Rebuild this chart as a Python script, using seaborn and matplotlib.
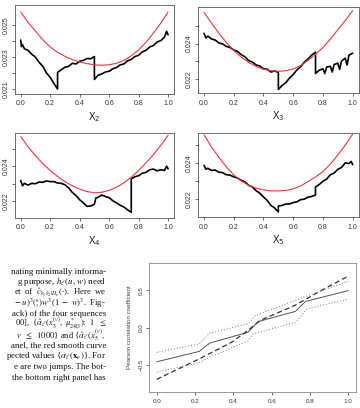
import numpy as np
import pandas as pd
import seaborn as sns
import matplotlib.pyplot as plt

# ---- data ----
grid = [0.00, 0.05, 0.10, 0.15, 0.20, 0.25, 0.30, 0.35, 0.40, 0.45, 0.50,
        0.55, 0.60, 0.65, 0.70, 0.75, 0.80, 0.85, 0.90, 0.95, 1.00]

red_x2 = [0.02580, 0.02515, 0.02462, 0.02408, 0.02363, 0.02330, 0.02305, 0.02285, 0.02270, 0.02260, 0.02253,
          0.02250, 0.02253, 0.02262, 0.02280, 0.02308, 0.02345, 0.02392, 0.02449, 0.02510, 0.02580]
red_x3 = [0.02575, 0.02515, 0.02458, 0.02406, 0.02361, 0.02324, 0.02294, 0.02272, 0.02256, 0.02247, 0.02244,
          0.02247, 0.02257, 0.02276, 0.02306, 0.02340, 0.02378, 0.02425, 0.02478, 0.02530, 0.02585]
red_x4 = [0.02572, 0.02512, 0.02461, 0.02415, 0.02376, 0.02342, 0.02312, 0.02288, 0.02269, 0.02255, 0.02248,
          0.02251, 0.02262, 0.02280, 0.02305, 0.02337, 0.02376, 0.02420, 0.02467, 0.02520, 0.02578]
red_x5 = [0.02557, 0.02490, 0.02432, 0.02380, 0.02335, 0.02302, 0.02278, 0.02262, 0.02252, 0.02247, 0.02246,
          0.02249, 0.02258, 0.02274, 0.02298, 0.02324, 0.02353, 0.02395, 0.02445, 0.02500, 0.02561]

# black sequences (x positions repeated at the jumps)
blk_x2_u = [0, 0.005, 0.0125, 0.025, 0.05, 0.075, 0.1, 0.125, 0.15, 0.175, 0.2, 0.225, 0.25, 0.25,
            0.275, 0.3, 0.325, 0.35, 0.375, 0.4, 0.425, 0.45, 0.475, 0.5, 0.5,
            0.525, 0.55, 0.575, 0.6, 0.625, 0.65, 0.675, 0.7, 0.725, 0.75, 0.775, 0.8,
            0.825, 0.85, 0.875, 0.9, 0.925, 0.95, 0.975, 0.99, 1.0]
blk_x2_v = [0.02406, 0.02365, 0.02378, 0.02352, 0.02342, 0.02318, 0.02300, 0.02268, 0.02243, 0.02202, 0.02175, 0.02138, 0.02103, 0.02205,
            0.02222, 0.02238, 0.02243, 0.02262, 0.02258, 0.02275, 0.02280, 0.02292, 0.02290, 0.02304, 0.02162,
            0.02188, 0.02196, 0.02208, 0.02213, 0.02228, 0.02236, 0.02252, 0.02258, 0.02278, 0.02286, 0.02304, 0.02312,
            0.02333, 0.02342, 0.02363, 0.02372, 0.02394, 0.02402, 0.02424, 0.02460, 0.02438]

blk_x3_u = [0, 0.0125, 0.025, 0.05, 0.075, 0.1, 0.125, 0.15, 0.175, 0.2, 0.225, 0.25, 0.275, 0.3,
            0.325, 0.35, 0.375, 0.4, 0.425, 0.45, 0.475, 0.5, 0.5,
            0.525, 0.55, 0.575, 0.6, 0.625, 0.65, 0.675, 0.7, 0.725, 0.75, 0.75,
            0.775, 0.8, 0.8125, 0.825, 0.85, 0.8625, 0.875, 0.9, 0.9125, 0.925, 0.95, 0.9625, 0.975, 1.0]
blk_x3_v = [0.02458, 0.02432, 0.02442, 0.02426, 0.02420, 0.02404, 0.02398, 0.02384, 0.02378, 0.02364, 0.02356, 0.02338, 0.02326, 0.02304,
            0.02296, 0.02280, 0.02274, 0.02258, 0.02256, 0.02240, 0.02246, 0.02238, 0.02142,
            0.02164, 0.02180, 0.02206, 0.02226, 0.02252, 0.02270, 0.02296, 0.02314, 0.02336, 0.02352, 0.02232,
            0.02250, 0.02258, 0.02232, 0.02268, 0.02272, 0.02240, 0.02282, 0.02290, 0.02255, 0.02302, 0.02318, 0.02280, 0.02335, 0.02346]

blk_x4_u = [0, 0.0125, 0.025, 0.05, 0.075, 0.1, 0.125, 0.15, 0.175, 0.2, 0.225, 0.25, 0.275, 0.3,
            0.325, 0.35, 0.375, 0.4, 0.425, 0.45, 0.475, 0.5, 0.51, 0.525, 0.55, 0.575,
            0.6, 0.625, 0.65, 0.675, 0.7, 0.725, 0.75, 0.75,
            0.775, 0.8, 0.825, 0.85, 0.875, 0.9, 0.925, 0.95, 0.975, 0.99, 1.0]
blk_x4_v = [0.02318, 0.02288, 0.02302, 0.02292, 0.02302, 0.02300, 0.02310, 0.02308, 0.02316, 0.02312, 0.02312, 0.02304, 0.02302, 0.02294,
            0.02276, 0.02250, 0.02232, 0.02208, 0.02190, 0.02170, 0.02172, 0.02182, 0.02218, 0.02222, 0.02235, 0.02226,
            0.02220, 0.02202, 0.02190, 0.02176, 0.02166, 0.02150, 0.02136, 0.02328,
            0.02340, 0.02346, 0.02360, 0.02365, 0.02380, 0.02384, 0.02374, 0.02380, 0.02376, 0.02400, 0.02386]

blk_x5_u = [0, 0.0125, 0.025, 0.05, 0.075, 0.1, 0.125, 0.15, 0.175, 0.2, 0.225, 0.25, 0.275, 0.3,
            0.325, 0.35, 0.375, 0.4, 0.425, 0.45, 0.475, 0.5, 0.5,
            0.525, 0.55, 0.575, 0.6, 0.625, 0.65, 0.675, 0.7, 0.725, 0.75, 0.75,
            0.775, 0.8, 0.825, 0.85, 0.875, 0.9, 0.925, 0.95, 0.975, 0.99, 1.0]
blk_x5_v = [0.02388, 0.02366, 0.02372, 0.02360, 0.02362, 0.02350, 0.02348, 0.02336, 0.02334, 0.02324, 0.02318, 0.02305, 0.02296, 0.02278,
            0.02268, 0.02248, 0.02234, 0.02213, 0.02194, 0.02166, 0.02152, 0.02130, 0.02163,
            0.02166, 0.02174, 0.02174, 0.02182, 0.02186, 0.02198, 0.02201, 0.02212, 0.02216, 0.02224, 0.02268,
            0.02282, 0.02300, 0.02312, 0.02336, 0.02345, 0.02366, 0.02376, 0.02402, 0.02398, 0.02410, 0.02392]

# bottom-right panel: Pearson correlation curves
pc_solid_x = [0.0, 0.223, 0.276, 0.476, 0.53, 0.724, 0.777, 1.0]
pc_solid_y = [-0.46, -0.32, -0.21, -0.064, 0.08, 0.216, 0.35, 0.495]
pc_dash_x = [0.0, 0.223, 0.39, 0.476, 0.54, 0.724, 0.847, 1.0]
pc_dash_y = [-0.695, -0.42, -0.20, -0.04, 0.095, 0.30, 0.48, 0.69]
pc_up_x = [0.0, 0.223, 0.276, 0.476, 0.515, 0.76, 1.0]
pc_up_y = [-0.334, -0.22, -0.077, 0.05, 0.16, 0.40, 0.62]
pc_lo_x = [0.0, 0.223, 0.276, 0.476, 0.50, 0.724, 0.785, 1.0]
pc_lo_y = [-0.60, -0.47, -0.40, -0.18, -0.09, 0.07, 0.25, 0.38]

panel_labels = ["2", "3", "4", "5"]
panel_ticks = [[0.021, 0.022, 0.023, 0.024, 0.025],
               [0.022, 0.023, 0.024, 0.025],
               [0.022, 0.023, 0.024, 0.025],
               [0.022, 0.023, 0.024, 0.025]]
panel_ticklabels = [["0.021", "", "0.023", "", "0.025"],
                    ["0.022", "", "0.024", ""],
                    ["0.022", "", "0.024", ""],
                    ["0.022", "", "0.024", ""]]
panel_ylim = [(0.02075, 0.02623), (0.02122, 0.02606), (0.02106, 0.02594), (0.02102, 0.02570)]
x_ticks = [0.0, 0.2, 0.4, 0.6, 0.8, 1.0]

# justified paragraph cut by the left page edge (extra spaces imitate justification)
paragraph = [
    "nating minimally informa-",
    r"g purpose, $h_\ell(u,\,w)$ need",
    r"et  of  $\hat{c}_{\hat{\varepsilon}_1\hat{\varepsilon}_2|D_e}(\cdot)$.  Here  we",
    r"$-\ u)^3\genfrac{(}{)}{0}{2}{6}{3}w^3(1\ -\ w)^3$.  Fig-",
    "ack) of the four sequences",
    r"00],  {$\hat{\alpha}_\ell(x_3^{(v)},\ \mu^*_{24|3})$:  $1\ \ \leq$",
    r"$v\ \ \leq\ \ 1000$} and {$\hat{\alpha}_\ell(x_5^{(v)},$",
    "anel, the red smooth curve",
    r"pected values {$\alpha_\ell(\mathbf{x}_e)$}. For",
    "e are two jumps. The bot-",
    "the bottom right panel has",
]
paragraph_base = [274, 284.5, 295, 305.5, 316, 326.5, 338, 348, 358, 369, 379.5]
paragraph_size = [6.4, 6.4, 6.2, 6.2, 6.4, 6.1, 6.2, 6.4, 6.4, 6.4, 6.4]

# ---- style ----
sns.set_style("ticks")
plt.rcParams["font.family"] = ["Liberation Sans", "DejaVu Sans"]
plt.rcParams.update({
    "axes.edgecolor": "#555555",
    "axes.linewidth": 0.6,
    "xtick.color": "#555555",
    "ytick.color": "#555555",
    "xtick.labelcolor": "#333333",
    "ytick.labelcolor": "#333333",
    "xtick.major.size": 2.2,
    "ytick.major.size": 2.2,
    "xtick.major.width": 0.6,
    "ytick.major.width": 0.6,
    "xtick.major.pad": 2.5,
    "ytick.major.pad": 1.5,
    "xtick.labelsize": 5,
    "ytick.labelsize": 5,
})

fig = plt.figure(figsize=(3.6, 4.08), dpi=100)


def rect(l, t, r, b):
    return [l / 360, 1 - b / 408, (r - l) / 360, (b - t) / 408]


boxes = [rect(14.8, 5, 174, 93.5), rect(198.1, 7, 358.6, 93),
         rect(14.8, 132.5, 174, 217.5), rect(198.1, 132.5, 358.6, 217)]
blacks = [(blk_x2_u, blk_x2_v), (blk_x3_u, blk_x3_v), (blk_x4_u, blk_x4_v), (blk_x5_u, blk_x5_v)]
reds = [red_x2, red_x3, red_x4, red_x5]

for i in range(4):
    ax = fig.add_axes(boxes[i])
    bu, bv = blacks[i]
    df_b = pd.DataFrame({"u": bu, "v": bv})
    df_r = pd.DataFrame({"u": grid, "v": reds[i]})
    sns.lineplot(data=df_b, x="u", y="v", ax=ax, color="black", lw=1.2,
                 estimator=None, sort=False)
    sns.lineplot(data=df_r, x="u", y="v", ax=ax, color="#e8383d", lw=0.8,
                 estimator=None, sort=False)
    ax.set_xlim(-0.04, 1.04)
    ax.set_ylim(*panel_ylim[i])
    ax.set_xticks(x_ticks)
    ax.set_xticklabels([f"{t:.1f}" for t in x_ticks])
    ax.set_yticks(panel_ticks[i])
    ax.set_yticklabels(panel_ticklabels[i], rotation=90, va="center")
    ax.set_xlabel(r"X$_{%s}$" % panel_labels[i], fontsize=7, labelpad=2, color="#222222")
    ax.set_ylabel("")

# bottom right: correlation panel
ax = fig.add_axes(rect(149, 263, 356, 392))
curves = [(pc_solid_x, pc_solid_y, "-", "#555555", 0.7),
          (pc_dash_x, pc_dash_y, (0, (4, 2.5)), "#333333", 0.9),
          (pc_up_x, pc_up_y, (0, (1, 2)), "#777777", 0.7),
          (pc_lo_x, pc_lo_y, (0, (1, 2)), "#777777", 0.7)]
for cx, cy, ls, col, lw in curves:
    sns.lineplot(x=cx, y=cy, ax=ax, color=col, lw=lw, linestyle=ls,
                 estimator=None, sort=False)
ax.set_xlim(-0.04, 1.04)
ax.set_ylim(-0.865, 0.865)
ax.set_xticks(x_ticks)
ax.set_xticklabels([f"{t:.1f}" for t in x_ticks], fontsize=4.5)
ax.set_yticks([-0.5, 0.0, 0.5])
ax.set_yticklabels(["\u22120.5", "0.0", "0.5"], rotation=90, va="center", fontsize=4.5)
ax.set_ylabel("Pearson correlation coefficient", fontsize=4.5, labelpad=5, color="#444444")
for s in ax.spines.values():
    s.set_color("#888888")

for line, yb, fs in zip(paragraph, paragraph_base, paragraph_size):
    fig.text(106 / 360, 1 - yb / 408, line, ha="right", va="baseline",
             fontsize=fs, family="Liberation Serif", math_fontfamily="stix", color="#111111")

fig.savefig("out.png", dpi=100)
